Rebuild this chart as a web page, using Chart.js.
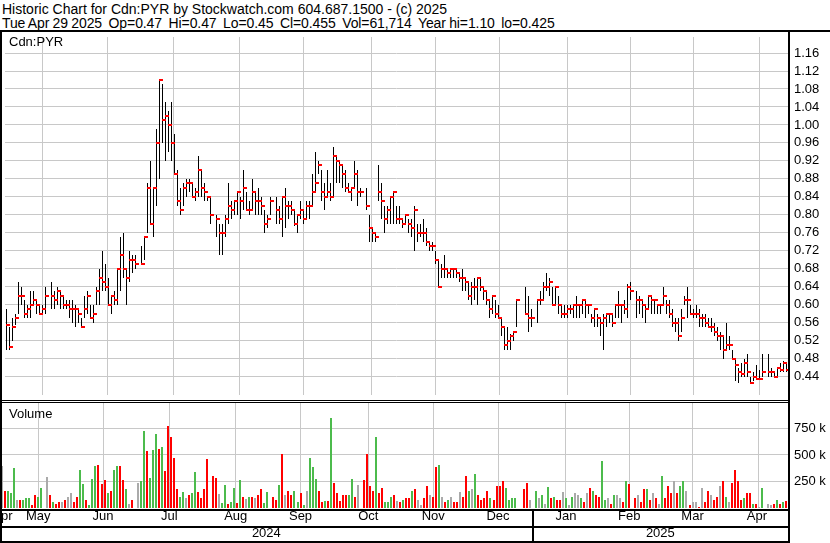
<!DOCTYPE html>
<html>
<head>
<meta charset="utf-8">
<script src="https://cdn.jsdelivr.net/npm/chart.js@4.4.1/dist/chart.umd.min.js"></script>
<style>
  html, body { margin: 0; padding: 0; background: #fff; }
  body { width: 830px; height: 543px; position: relative; overflow: hidden; font-family: Arial, "Liberation Sans", sans-serif; color: #000; }
  .cab { position: absolute; left: 2px; font-size: 14px; line-height: 14px; white-space: pre; }
  .rot { position: absolute; font-size: 13px; line-height: 13px; }
  .ln { position: absolute; background: #000; }
  canvas { position: absolute; left: 0; }
</style>
</head>
<body>
<div class="cab" style="top:2px">Historic Chart for Cdn:PYR by Stockwatch.com 604.687.1500 - (c) 2025</div>
<div class="cab" style="top:16px; letter-spacing:-0.1px; word-spacing:-0.5px">Tue Apr 29 2025  Op=0.47  Hi=0.47  Lo=0.45  Cl=0.455  Vol=61,714  Year hi=1.10  lo=0.425</div>

<canvas id="graficoPreco" width="830" height="368" style="top:32px"></canvas>
<canvas id="graficoVolume" width="830" height="140" style="top:403px"></canvas>

<div class="rot" style="left:9px; top:35px">Cdn:PYR</div>
<div class="rot" style="left:9px; top:407px">Volume</div>

<!-- molduras -->
<div class="ln" style="left:0; top:30px; width:830px; height:2px"></div>
<div class="ln" style="left:0; top:30px; width:2px; height:512px"></div>
<div class="ln" style="left:788px; top:30px; width:2px; height:512px"></div>
<div class="ln" style="left:0; top:400px; width:790px; height:1px"></div>
<div class="ln" style="left:0; top:402px; width:790px; height:1px"></div>

<script>
// === Dados (um slot por dia util, 30 abr 2024 .. 29 abr 2025; null = feriado) ===
const maxima = [
  .59,
  .55,.57,.58,.65,.64,.61,.60,.63,.63,.61,.60,.60,.64,null,.65,.63,.64,.63,.62,.61,.61,.61,.60,
  .59,.57,.62,.63,.60,.60,.64,.68,.72,.69,.66,.62,.63,.68,.75,.76,.68,.72,.71,.71,
  null,.73,.75,.87,.92,.86,.99,1.10,1.09,1.05,1.03,1.05,.98,.90,.86,.87,.88,.88,.87,.86,.93,.90,.87,
  .84,.84,null,.80,.78,.78,.80,.87,.83,.83,.85,.84,.90,.85,.83,.88,.85,.86,.84,.81,.80,.84,
  null,.84,.82,.84,.86,.83,.83,.81,.80,.83,.81,.83,.83,.89,.94,.92,.90,.87,.90,.87,.95,
  .93,.92,.91,.90,.87,.86,.92,.90,.86,null,.86,.80,.77,.76,.91,.87,.82,.82,.84,.85,.82,.82,.79,
  .80,.79,.79,.82,.78,.78,.79,.77,.74,.74,.72,.70,.69,.71,.68,.68,.68,.68,.67,.68,.66,
  .65,.65,.66,.66,.66,.64,.63,.61,.62,.61,.60,.57,.55,.55,.535,.54,.61,null,null,.64,.62,.59,
  null,.61,.63,.65,.67,.66,.64,.64,.62,.60,.60,.60,.60,.60,.62,.60,.61,.61,.60,.58,.59,.58,.57,
  .58,.58,.58,.58,.60,.63,.60,.61,.645,.65,null,.63,.62,.61,.60,.62,.62,.61,.60,.60,
  .64,.61,.61,.59,.57,.57,.59,.62,.64,.60,.59,.60,.59,.58,.58,.57,.57,.56,.55,.54,.53,
  .56,.53,.50,.48,.46,.47,.48,.49,.44,.45,.465,.455,.49,null,.49,.46,.45,.46,.47,.475,.47
];
const minima = [
  .50,
  .50,.52,.555,.58,.60,.57,.57,.57,.60,.58,.58,.58,.58,null,.59,.59,.60,.59,.59,.59,.57,.56,.55,
  .56,.55,.57,.58,.57,.56,.60,.60,.63,.63,.60,.58,.60,.60,.63,.66,.60,.65,.67,.68,
  null,.69,.70,.76,.78,.75,.82,.88,.96,.92,.94,.92,.89,.82,.80,.82,.84,.85,.84,.83,.84,.84,.83,
  .83,.78,null,.75,.71,.71,.75,.78,.79,.80,.80,.79,.81,.81,.80,.81,.80,.80,.80,.76,.77,.80,
  null,.78,.78,.75,.77,.79,.80,.775,.76,.79,.78,.79,.79,.82,.85,.89,.83,.81,.84,.83,.84,
  .87,.87,.86,.85,.85,.83,.86,.82,.84,null,.81,.74,.74,.74,.83,.79,.76,.78,.78,.78,.78,.78,.77,
  .78,.76,.75,.72,.74,.75,.74,.73,.72,.72,.69,.64,.66,.66,.66,.66,.66,.66,.65,.63,.63,
  .61,.60,.61,.60,.63,.61,.60,.57,.58,.57,.57,.53,.50,.50,.50,.52,.55,null,null,.58,.54,.55,
  null,.56,.60,.61,.63,.62,.60,.60,.58,.57,.57,.57,.58,.57,.57,.57,.58,.57,.58,.56,.55,.55,.53,
  .50,.55,.56,.55,.57,.57,.56,.58,.57,.61,null,.57,.58,.57,.56,.59,.58,.58,.58,.58,
  .60,.58,.57,.55,.54,.52,.54,.60,.57,.58,.57,.57,.55,.55,.55,.55,.54,.53,.52,.50,.48,
  .50,.50,.48,.43,.425,.44,.44,.44,.425,.43,.435,.435,.44,null,.44,.44,.44,.44,.45,.45,.45
];
const fechamento = [
  .555,
  .505,.55,.57,.62,.62,.58,.59,.60,.61,.60,.58,.59,.62,null,.62,.61,.63,.62,.60,.60,.59,.59,.59,
  .58,.55,.59,.62,.57,.58,.63,.66,.65,.64,.60,.62,.61,.68,.71,.68,.66,.70,.70,.69,
  null,.69,.75,.86,.78,.86,.96,1.10,1.01,1.02,1.00,.96,.89,.83,.81,.86,.87,.87,.84,.85,.90,.86,.85,
  .84,.80,null,.79,.76,.76,.79,.82,.81,.83,.85,.83,.86,.81,.81,.85,.83,.83,.82,.78,.79,.83,
  null,.81,.79,.84,.82,.82,.81,.78,.80,.81,.79,.82,.82,.85,.87,.91,.85,.84,.85,.84,.93,
  .92,.91,.89,.86,.85,.86,.89,.85,.85,null,.82,.77,.76,.75,.85,.83,.79,.81,.84,.85,.79,.79,.78,
  .80,.78,.77,.81,.76,.76,.76,.74,.73,.73,.70,.64,.68,.68,.67,.68,.68,.67,.66,.66,.65,
  .62,.64,.64,.66,.64,.63,.61,.59,.62,.58,.57,.55,.51,.52,.53,.54,.61,null,null,.58,.57,.57,
  null,.61,.61,.64,.64,.65,.60,.64,.60,.58,.58,.59,.59,.60,.60,.60,.61,.60,.60,.57,.59,.57,.56,
  .57,.58,.58,.56,.60,.60,.60,.59,.64,.63,null,.61,.61,.60,.59,.62,.61,.61,.60,.60,
  .62,.60,.58,.56,.56,.53,.57,.61,.61,.58,.58,.58,.57,.57,.56,.55,.55,.54,.53,.53,.50,
  .51,.51,.48,.465,.45,.445,.47,.45,.425,.44,.435,.435,.45,null,.45,.45,.44,.46,.455,.47,.455
];
// volume em milhares
const volume = [
  400,
  165,156,146,373,80,80,71,90,90,33,118,108,193,null,297,127,52,42,52,61,80,108,137,
  61,108,363,222,71,33,269,400,410,222,260,146,165,354,400,400,260,175,42,80,
  null,234,253,725,536,281,545,696,555,574,347,772,668,469,178,102,149,92,121,140,338,149,92,
  178,460,null,300,281,130,46,215,36,55,187,46,262,102,83,102,102,92,121,178,46,149,
  null,100,75,220,505,127,165,118,165,52,146,33,165,473,391,278,159,52,64,64,844,
  240,140,70,127,127,127,278,108,220,null,268,505,203,156,665,146,193,52,52,108,127,64,52,
  71,90,99,165,175,71,24,90,203,118,108,391,410,108,61,80,108,61,52,155,108,
  306,165,175,325,127,71,99,165,99,71,203,203,259,184,71,99,99,null,null,175,240,80,
  null,165,99,118,42,200,99,108,71,71,155,90,33,108,146,127,99,52,146,184,165,118,108,
  447,80,99,42,127,127,90,52,250,222,null,99,127,52,175,175,80,137,90,42,
  306,90,203,137,259,137,212,259,156,33,52,61,14,184,61,165,127,71,108,212,259,
  108,61,240,363,250,71,99,137,137,42,42,14,193,null,42,24,42,71,42,61,62
];

// slot do primeiro dia de cada mes (linhas verticais) e rotulos
const linhasMes = [1, 23, 44, 67, 88, 110, 133, 153, 176, 198, 218, 240];
const nomesMes = ["Apr", "May", "Jun", "Jul", "Aug", "Sep", "Oct", "Nov", "Dec", "Jan", "Feb", "Mar", "Apr"];
const inicioAno = 176;
const nomesAno = ["2024", "2025"];
const ticksPreco = [0.44, 0.48, 0.52, 0.56, 0.60, 0.64, 0.68, 0.72, 0.76, 0.80, 0.84, 0.88, 0.92, 0.96, 1.00, 1.04, 1.08, 1.12, 1.16];
const ticksVolume = [250, 500, 750];

// === Montagem ===
const xMin = -0.663, xMax = 260.663;
const barrasHL = [], fechamentos = [], barrasVol = [], coresVol = [];
let anterior = null;
for (let i = 0; i < maxima.length; i++) {
  if (maxima[i] == null) continue;
  barrasHL.push({ x: i, y: [minima[i], maxima[i]] });
  fechamentos.push({ x: i, y: fechamento[i] });
  barrasVol.push({ x: i, y: volume[i] });
  let cor = "#aaaaaa";
  if (anterior != null && fechamento[i] > anterior) cor = "#4cbb4c";
  if (anterior != null && fechamento[i] < anterior) cor = "#ff0000";
  coresVol.push(cor);
  anterior = fechamento[i];
}

const bordas = [xMin, ...linhasMes, xMax];
const centrosMes = nomesMes.map((_, k) => (bordas[k] + bordas[k + 1]) / 2);
const centrosAno = [(xMin + inicioAno) / 2, (inicioAno + xMax) / 2];

// marca vermelha do fechamento (para a direita da barra)
const marca = document.createElement("canvas");
marca.width = 7; marca.height = 2;
const mctx = marca.getContext("2d");
mctx.fillStyle = "#ff0000";
mctx.fillRect(3, 0, 4, 2);

const fonte = { family: "Arial, 'Liberation Sans', sans-serif", size: 13 };
const cinza = "#c8c8c8";

// encaixa barras e marcas na grade de pixels (linhas nitidas)
const pixelInteiro = {
  id: "pixelInteiro",
  beforeDatasetsDraw(chart) {
    chart.data.datasets.forEach((ds, di) => {
      const meta = chart.getDatasetMeta(di);
      meta.data.forEach(el => {
        if (meta.type === "bar") {
          el.x = (Math.round(el.width) % 2 === 1) ? Math.floor(el.x) + 0.5 : Math.round(el.x);
          el.y = Math.round(el.y);
          el.base = Math.round(el.base);
        } else {
          el.x = Math.floor(el.x) + 0.5;
          el.y = Math.round(el.y);
        }
      });
    });
  }
};

function eixoX(extra) {
  return Object.assign({
    type: "linear", min: xMin, max: xMax, offset: false, position: "bottom",
    afterBuildTicks: s => { s.ticks = linhasMes.map(v => ({ value: v })); },
    afterFit: s => { s.height = 0; s.paddingLeft = 0; s.paddingRight = 0; },
    ticks: { display: false },
    grid: { color: cinza, drawTicks: false },
    border: { display: false }
  }, extra || {});
}

const chartPreco = new Chart(document.getElementById("graficoPreco"), {
  type: "bar",
  data: {
    datasets: [
      { type: "scatter", data: fechamentos, pointStyle: marca, order: 1 },
      { type: "bar", data: barrasHL, backgroundColor: "#000", barThickness: 1, borderWidth: 0, inflateAmount: 0, order: 2 }
    ]
  },
  options: {
    responsive: false, animation: false,
    layout: { padding: 0 },
    plugins: { legend: { display: false }, tooltip: { enabled: false } },
    scales: {
      x: eixoX(),
      y: {
        position: "right", min: 0.399, max: 1.1957,
        afterBuildTicks: s => { s.ticks = ticksPreco.map(v => ({ value: v })); },
        afterFit: s => { s.width = 42; s.paddingTop = 0; s.paddingBottom = 0; },
        grid: { color: cinza, drawTicks: false },
        border: { display: false },
        ticks: { color: "#000", font: fonte, padding: 6, callback: v => v.toFixed(2) }
      }
    }
  },
  plugins: [pixelInteiro]
});

const molduraVolume = {
  id: "molduraVolume",
  afterDraw(chart) {
    const ctx = chart.ctx;
    const xj = chart.scales.x.getPixelForValue(inicioAno);
    ctx.save();
    ctx.fillStyle = "#000";
    ctx.fillRect(0, 106, 790, 2);
    ctx.fillRect(0, 123, 790, 2);
    ctx.fillRect(0, 138, 790, 2);
    ctx.fillRect(Math.round(xj) - 1, 106, 2, 34);
    ctx.restore();
  }
};

const chartVolume = new Chart(document.getElementById("graficoVolume"), {
  type: "bar",
  data: {
    datasets: [
      { type: "bar", data: barrasVol, backgroundColor: coresVol, barThickness: 2, borderWidth: 0, inflateAmount: 0 }
    ]
  },
  options: {
    responsive: false, animation: false,
    layout: { padding: 0 },
    plugins: { legend: { display: false }, tooltip: { enabled: false } },
    scales: {
      x: eixoX({ weight: 0 }),
      xm: {
        type: "linear", min: xMin, max: xMax, offset: false, position: "bottom", weight: 1,
        afterBuildTicks: s => { s.ticks = centrosMes.map(v => ({ value: v })); },
        afterFit: s => { s.height = 18; s.paddingLeft = 0; s.paddingRight = 0; },
        grid: { display: false, drawTicks: false },
        border: { display: false },
        ticks: { color: "#000", font: fonte, padding: 1, autoSkip: false, maxRotation: 0,
                 callback: (v, i) => nomesMes[i] }
      },
      xa: {
        type: "linear", min: xMin, max: xMax, offset: false, position: "bottom", weight: 2,
        afterBuildTicks: s => { s.ticks = centrosAno.map(v => ({ value: v })); },
        afterFit: s => { s.height = 17; s.paddingLeft = 0; s.paddingRight = 0; },
        grid: { display: false, drawTicks: false },
        border: { display: false },
        ticks: { color: "#000", font: fonte, padding: 0, autoSkip: false, maxRotation: 0,
                 callback: (v, i) => nomesAno[i] }
      },
      y: {
        position: "right", min: 0, max: 990,
        afterBuildTicks: s => { s.ticks = ticksVolume.map(v => ({ value: v })); },
        afterFit: s => { s.width = 42; s.paddingTop = 0; s.paddingBottom = 0; },
        grid: { color: cinza, drawTicks: false },
        border: { display: false },
        ticks: { color: "#000", font: fonte, padding: 6, callback: v => v + " k" }
      }
    }
  },
  plugins: [pixelInteiro, molduraVolume]
});
</script>
</body>
</html>
